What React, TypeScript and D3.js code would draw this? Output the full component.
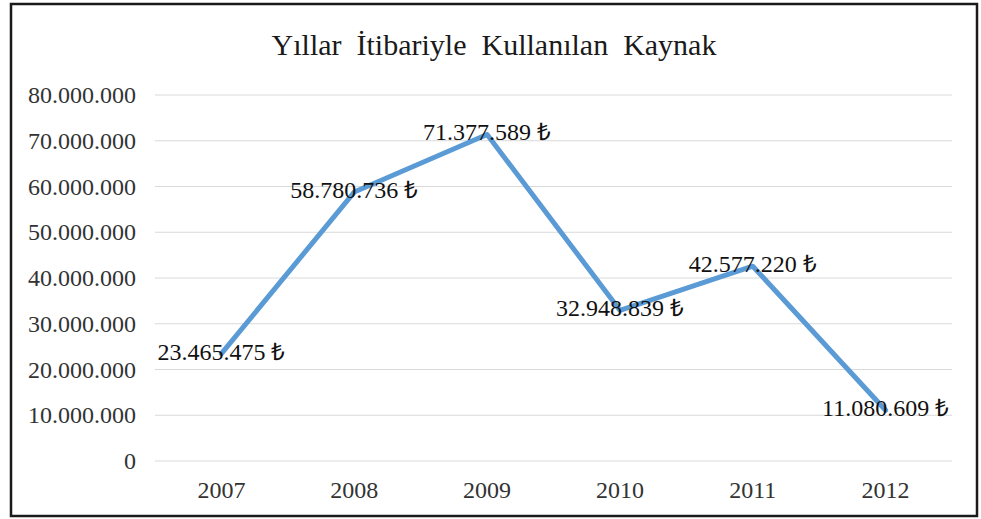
import React, { useEffect, useRef } from 'react';
import * as d3 from 'd3';

const years = ['2007', '2008', '2009', '2010', '2011', '2012'];
const amounts = [23465475, 58780736, 71377589, 32948839, 42577220, 11080609];
const yTicks = [0, 10000000, 20000000, 30000000, 40000000, 50000000, 60000000, 70000000, 80000000];
const title = 'Yıllar  İtibariyle  Kullanılan  Kaynak';

const fmt = (v: number) => d3.format(',')(v).replace(/,/g, '.');

export default function App() {
  const ref = useRef<SVGSVGElement>(null);

  useEffect(() => {
    if (!ref.current) return;
    const svg = d3.select(ref.current);
    svg.selectAll('*').remove();

    const width = 981;
    const height = 519;
    const font = '"Liberation Serif", "Times New Roman", serif';

    svg.append('rect')
      .attr('x', 0).attr('y', 0).attr('width', width).attr('height', height)
      .attr('fill', '#fff');

    // outer frame
    svg.append('rect')
      .attr('x', 11).attr('y', 4).attr('width', 966).attr('height', 512)
      .attr('fill', 'none')
      .attr('stroke', '#1a1a1a')
      .attr('stroke-width', 2.5);

    svg.append('text')
      .attr('x', 494)
      .attr('y', 55)
      .attr('text-anchor', 'middle')
      .attr('font-family', font)
      .attr('font-size', 30)
      .attr('fill', '#1a1a1a')
      .style('white-space', 'pre')
      .text(title);

    const x = d3.scaleBand().domain(years).range([155, 952]);
    const y = d3.scaleLinear().domain([0, 80000000]).range([461, 95]);

    // gridlines
    svg.append('g')
      .selectAll('line')
      .data(yTicks)
      .join('line')
      .attr('x1', 155).attr('x2', 952)
      .attr('y1', d => y(d)).attr('y2', d => y(d))
      .attr('stroke', '#d9d9d9')
      .attr('stroke-width', 1.2);

    svg.append('g')
      .selectAll('text')
      .data(yTicks)
      .join('text')
      .attr('x', 136)
      .attr('y', d => y(d) + 8)
      .attr('text-anchor', 'end')
      .attr('font-family', font)
      .attr('font-size', 24)
      .attr('fill', '#333')
      .text(d => fmt(d));

    svg.append('g')
      .selectAll('text')
      .data(years)
      .join('text')
      .attr('x', d => (x(d) as number) + x.bandwidth() / 2)
      .attr('y', 498)
      .attr('text-anchor', 'middle')
      .attr('font-family', font)
      .attr('font-size', 24)
      .attr('fill', '#333')
      .text(d => d);

    const pts = years.map((yr, i) => ({ yr, v: amounts[i] }));
    const line = d3.line<{ yr: string; v: number }>()
      .x(d => (x(d.yr) as number) + x.bandwidth() / 2)
      .y(d => y(d.v));

    svg.append('path')
      .datum(pts)
      .attr('d', line)
      .attr('fill', 'none')
      .attr('stroke', '#5b9bd5')
      .attr('stroke-width', 5)
      .attr('stroke-linejoin', 'round')
      .attr('stroke-linecap', 'round');

    svg.append('g')
      .selectAll('text')
      .data(pts)
      .join('text')
      .attr('x', d => (x(d.yr) as number) + x.bandwidth() / 2)
      .attr('y', d => y(d.v) + 6)
      .attr('text-anchor', 'middle')
      .attr('font-family', font)
      .attr('font-size', 24)
      .attr('fill', '#111')
      .text(d => `${fmt(d.v)} ₺`);
  }, []);

  return (
    <svg
      ref={ref}
      width={981}
      height={519}
      style={{ position: 'absolute', left: 0, top: 0 }}
    />
  );
}
